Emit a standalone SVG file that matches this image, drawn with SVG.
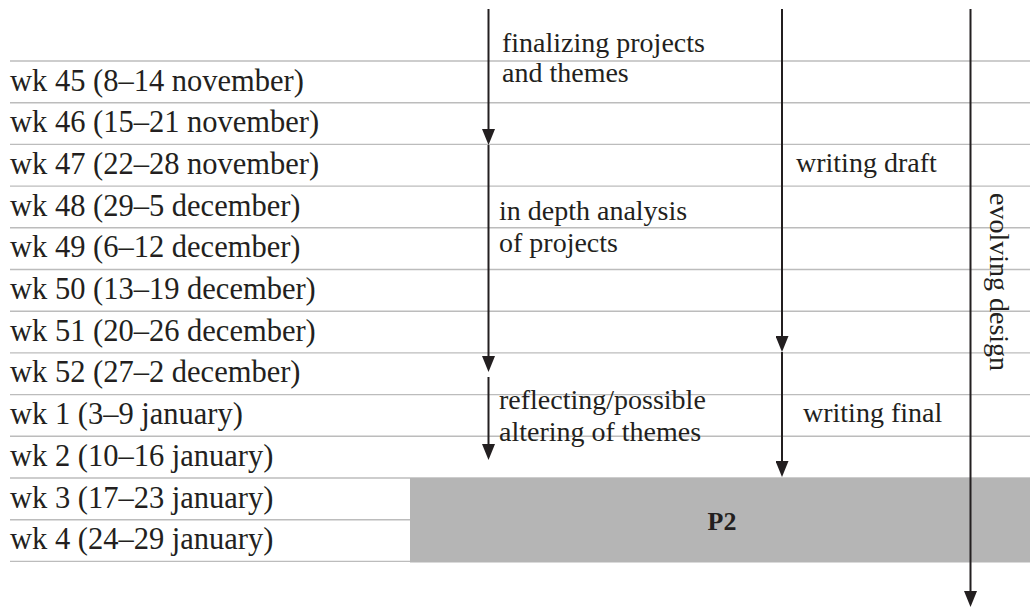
<svg xmlns="http://www.w3.org/2000/svg" width="1030" height="608" viewBox="0 0 1030 608">
<style>
.grid{stroke:#bcbcbc;stroke-width:1.4;fill:none}
.wk{font-size:30.5px;fill:#231f20}
.lbl{font-size:28px;fill:#231f20}
.p2{font-size:26px;font-weight:bold;fill:#231f20}
.arr{stroke:#231f20;stroke-width:2;fill:none;marker-end:url(#ah)}
</style>
<defs>
<marker id="ah" markerUnits="userSpaceOnUse" markerWidth="16" markerHeight="13" refX="8" refY="6.5" orient="auto">
<path d="M0,0 L16,6.5 L0,13 Z" fill="#231f20"/>
</marker>
</defs>
<rect width="1030" height="608" fill="#ffffff"/>
<g id="grid">
<line class="grid" x1="10" y1="61" x2="1030" y2="61"/>
<line class="grid" x1="10" y1="102.7" x2="1030" y2="102.7"/>
<line class="grid" x1="10" y1="144.4" x2="1030" y2="144.4"/>
<line class="grid" x1="10" y1="186.1" x2="1030" y2="186.1"/>
<line class="grid" x1="10" y1="227.8" x2="1030" y2="227.8"/>
<line class="grid" x1="10" y1="269.5" x2="1030" y2="269.5"/>
<line class="grid" x1="10" y1="311.2" x2="1030" y2="311.2"/>
<line class="grid" x1="10" y1="352.9" x2="1030" y2="352.9"/>
<line class="grid" x1="10" y1="394.6" x2="1030" y2="394.6"/>
<line class="grid" x1="10" y1="436.3" x2="1030" y2="436.3"/>
<line class="grid" x1="10" y1="478" x2="1030" y2="478"/>
<line class="grid" x1="10" y1="519.7" x2="1030" y2="519.7"/>
<line class="grid" x1="10" y1="561.4" x2="1030" y2="561.4"/>
</g>
<g font-family="Liberation Serif, Times New Roman, serif">
<g id="weeks">
<text class="wk" x="10" y="90.5">wk 45 (8–14 november)</text>
<text class="wk" x="10" y="132.2">wk 46 (15–21 november)</text>
<text class="wk" x="10" y="173.9">wk 47 (22–28 november)</text>
<text class="wk" x="10" y="215.6">wk 48 (29–5 december)</text>
<text class="wk" x="10" y="257.3">wk 49 (6–12 december)</text>
<text class="wk" x="10" y="299">wk 50 (13–19 december)</text>
<text class="wk" x="10" y="340.7">wk 51 (20–26 december)</text>
<text class="wk" x="10" y="382.4">wk 52 (27–2 december)</text>
<text class="wk" x="10" y="424.1">wk 1 (3–9 january)</text>
<text class="wk" x="10" y="465.8">wk 2 (10–16 january)</text>
<text class="wk" x="10" y="507.5">wk 3 (17–23 january)</text>
<text class="wk" x="10" y="549.2">wk 4 (24–29 january)</text>
</g>
<g id="p2">
<rect x="410" y="478" width="620" height="84.5" fill="#b5b5b5"/>
<text class="p2" x="722" y="530" text-anchor="middle">P2</text>
</g>
<g id="finalizing">
<text class="lbl" x="502" y="51.7">finalizing projects</text>
<text class="lbl" x="502" y="81.7">and themes</text>
</g>
<g id="analysis">
<text class="lbl" x="499" y="220">in depth analysis</text>
<text class="lbl" x="499" y="251.7">of projects</text>
</g>
<g id="reflecting">
<text class="lbl" x="499" y="409.3">reflecting/possible</text>
<text class="lbl" x="499" y="440.7">altering of themes</text>
</g>
<g id="draft">
<text class="lbl" x="796" y="171.7">writing draft</text>
</g>
<g id="final">
<text class="lbl" x="803" y="421.7">writing final</text>
</g>
<g id="evolving">
<text class="lbl" transform="translate(990,193) rotate(90)" x="0" y="0">evolving design</text>
</g>
</g>
<g id="connectors">
<line class="arr" x1="488.5" y1="9" x2="488.5" y2="137"/>
<line class="arr" x1="488.5" y1="145" x2="488.5" y2="364"/>
<line class="arr" x1="488.5" y1="377" x2="488.5" y2="452"/>
<line class="arr" x1="782" y1="9" x2="782" y2="344"/>
<line class="arr" x1="782" y1="352" x2="782" y2="469"/>
<line class="arr" x1="970.5" y1="9" x2="970.5" y2="599"/>
</g>
</svg>
